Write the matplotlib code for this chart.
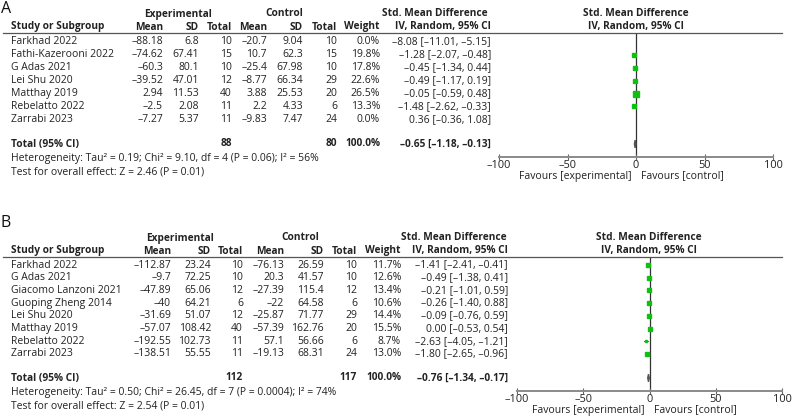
import matplotlib
matplotlib.use("Agg")
import matplotlib.pyplot as plt
from matplotlib.lines import Line2D
import numpy as np

W, H = 792, 416
M = "\u2013"  # minus as drawn in the reference (short dash)

# ---- panel A data ----
a_studies = ["Farkhad 2022", "Fathi-Kazerooni 2022", "G Adas 2021", "Lei Shu 2020",
             "Matthay 2019", "Rebelatto 2022", "Zarrabi 2023"]
a_exp_mean = [-88.18, -74.62, -60.3, -39.52, 2.94, -2.5, -7.27]
a_exp_sd = [6.8, 67.41, 80.1, 47.01, 11.53, 2.08, 5.37]
a_exp_n = [10, 15, 10, 12, 40, 11, 11]
a_ctl_mean = [-20.7, 10.7, -25.4, -8.77, 3.88, 2.2, -9.83]
a_ctl_sd = [9.04, 62.3, 67.98, 66.34, 25.53, 4.33, 7.47]
a_ctl_n = [10, 15, 10, 29, 20, 6, 24]
a_weight = [0.0, 19.8, 17.8, 22.6, 26.5, 13.3, 0.0]
a_smd = [-8.08, -1.28, -0.45, -0.49, -0.05, -1.48, 0.36]
a_lo = [-11.01, -2.07, -1.34, -1.17, -0.59, -2.62, -0.36]
a_hi = [-5.15, -0.48, 0.44, 0.19, 0.48, -0.33, 1.08]
a_total = (-0.65, -1.18, -0.13)
a_total_n = (88, 80)
a_het = "Heterogeneity: Tau\u00b2 = 0.19; Chi\u00b2 = 9.10, df = 4 (P = 0.06); I\u00b2 = 56%"
a_test = "Test for overall effect: Z = 2.46 (P = 0.01)"

# ---- panel B data ----
b_studies = ["Farkhad 2022", "G Adas 2021", "Giacomo Lanzoni 2021", "Guoping Zheng 2014",
             "Lei Shu 2020", "Matthay 2019", "Rebelatto 2022", "Zarrabi 2023"]
b_exp_mean = [-112.87, -9.7, -47.89, -40, -31.69, -57.07, -192.55, -138.51]
b_exp_sd = [23.24, 72.25, 65.06, 64.21, 51.07, 108.42, 102.73, 55.55]
b_exp_n = [10, 10, 12, 6, 12, 40, 11, 11]
b_ctl_mean = [-76.13, 20.3, -27.39, -22, -25.87, -57.39, 57.1, -19.13]
b_ctl_sd = [26.59, 41.57, 115.4, 64.58, 71.77, 162.76, 56.66, 68.31]
b_ctl_n = [10, 10, 12, 6, 29, 20, 6, 24]
b_weight = [11.7, 12.6, 13.4, 10.6, 14.4, 15.5, 8.7, 13.0]
b_smd = [-1.41, -0.49, -0.21, -0.26, -0.09, 0.00, -2.63, -1.80]
b_lo = [-2.41, -1.38, -1.01, -1.40, -0.76, -0.53, -4.05, -2.65]
b_hi = [-0.41, 0.41, 0.59, 0.88, 0.59, 0.54, -1.21, -0.96]
b_total = (-0.76, -1.34, -0.17)
b_total_n = (112, 117)
b_het = "Heterogeneity: Tau\u00b2 = 0.50; Chi\u00b2 = 26.45, df = 7 (P = 0.0004); I\u00b2 = 74%"
b_test = "Test for overall effect: Z = 2.54 (P = 0.01)"

ticks = [-100, -50, 0, 50, 100]

FS = 7.5
FSB = 7.3
TXT = "#222222"
plt.rcParams["font.family"] = ["Open Sans", "DejaVu Sans"]

fig = plt.figure(figsize=(W / 100, H / 100), dpi=100)


def fx(x):
    return x / W


def fy(y):
    return 1 - y / H


def put(x, y, s, ha="left", bold=False, size=None, color=TXT):
    if size is None:
        size = FSB if bold else FS
    fig.text(fx(x), fy(y), s, ha=ha, va="center", fontsize=size,
             fontweight="bold" if bold else "normal", color=color)


def num(v):
    return f"{v:g}".replace("-", M)


def fmt_ci(m, lo, hi):
    return f"{m:.2f} [{lo:.2f}, {hi:.2f}]".replace("-", M)


def panel(label, label_y, top, cols, rows_y, row_h, total_y, forest, data):
    (studies, em, esd, en, cm, csd, cn, wt, smd, lo, hi, tot, tot_n, het, test) = data
    c_study, c_em, c_esd, c_en, c_cm, c_csd, c_cn, c_w, c_ci, c_exp, c_ctl, c_smd1 = cols
    fx0, fx1, fcen = forest

    put(1, label_y, label, size=11.5, color="#111111")
    h1 = top + 8
    h2 = top + 21
    line_y = top + 27
    put(c_exp, h1, "Experimental", ha="center", bold=True)
    put(c_ctl, h1, "Control", ha="center", bold=True)
    put(c_smd1, h1, "Std. Mean Difference", ha="center", bold=True)
    put(fcen, h1, "Std. Mean Difference", ha="center", bold=True)
    put(c_study, h2, "Study or Subgroup", bold=True)
    for x, s in [(c_em, "Mean"), (c_esd, "SD"), (c_en, "Total"), (c_cm, "Mean"),
                 (c_csd, "SD"), (c_cn, "Total"), (c_w, "Weight"), (c_ci, "IV, Random, 95% CI")]:
        put(x, h2, s, ha="right", bold=True)
    put(fcen, h2, "IV, Random, 95% CI", ha="center", bold=True)
    fig.add_artist(Line2D([fx(3), fx(782)], [fy(line_y), fy(line_y)], color="#555555", lw=0.9))

    for i, name in enumerate(studies):
        y = rows_y + i * row_h
        put(c_study, y, name)
        put(c_em, y, num(em[i]), ha="right")
        put(c_esd, y, num(esd[i]), ha="right")
        put(c_en, y, str(en[i]), ha="right")
        put(c_cm, y, num(cm[i]), ha="right")
        put(c_csd, y, num(csd[i]), ha="right")
        put(c_cn, y, str(cn[i]), ha="right")
        put(c_w, y, f"{wt[i]:.1f}%", ha="right")
        put(c_ci, y, fmt_ci(smd[i], lo[i], hi[i]), ha="right")

    put(c_study, total_y, "Total (95% CI)", bold=True)
    put(c_en, total_y, str(tot_n[0]), ha="right", bold=True)
    put(c_cn, total_y, str(tot_n[1]), ha="right", bold=True)
    put(c_w, total_y, "100.0%", ha="right", bold=True)
    put(c_ci, total_y, fmt_ci(*tot), ha="right", bold=True)
    put(c_study, total_y + 14, het)
    put(c_study, total_y + 28, test)

    # forest axes: rows in index units
    axis_y = total_y + 13
    n = len(studies)
    ytop = (line_y - rows_y) / row_h
    ybot = (axis_y - rows_y) / row_h
    ax = fig.add_axes([fx(fx0), fy(axis_y), fx(fx1) - fx(fx0), (axis_y - line_y) / H])
    ax.set_xlim(-100, 100)
    ax.set_ylim(ybot, ytop)
    ax.patch.set_alpha(0)
    for s in ["top", "left", "right"]:
        ax.spines[s].set_visible(False)
    ax.spines["bottom"].set_color("#8a8a8a")
    ax.spines["bottom"].set_linewidth(1.4)
    ax.set_yticks([])
    ax.set_xticks(ticks)
    ax.set_xticklabels([num(t) for t in ticks])
    ax.tick_params(axis="x", direction="inout", length=5, width=0.8, color="#666666",
                   labelsize=FS + 0.4, labelcolor=TXT, pad=0)
    ax.plot([0, 0], [ybot, ytop], color="#333333", lw=0.9, zorder=1)
    for i in range(n):
        if wt[i] <= 0:
            continue
        ax.plot([lo[i], hi[i]], [i, i], color="#1a8a1a", lw=0.7, zorder=2)
        ax.plot(smd[i], i, marker="s", color="#10c010", mec="#10c010",
                markersize=0.72 * np.sqrt(wt[i]), zorder=3)
    ti = (total_y - rows_y) / row_h
    m, l, h = tot
    ax.fill([l, m, h, m], [ti, ti - 0.3, ti, ti + 0.3], color="#555555", zorder=3)
    put(fcen - 4, axis_y + 19, "Favours [experimental]", ha="right")
    put(fcen + 5, axis_y + 19, "Favours [control]", ha="left")


panel("A", 9, 6, (11, 163, 199, 232, 267, 303, 337, 380, 491, 178, 284, 435),
      41.7, 12.95, 144, (499, 773, 636),
      (a_studies, a_exp_mean, a_exp_sd, a_exp_n, a_ctl_mean, a_ctl_sd, a_ctl_n,
       a_weight, a_smd, a_lo, a_hi, a_total, a_total_n, a_het, a_test))

panel("B", 223, 230, (11, 171, 211, 243, 284, 324, 357, 401, 508, 180, 300, 454),
      265, 12.7, 378, (517, 782, 649),
      (b_studies, b_exp_mean, b_exp_sd, b_exp_n, b_ctl_mean, b_ctl_sd, b_ctl_n,
       b_weight, b_smd, b_lo, b_hi, b_total, b_total_n, b_het, b_test))

fig.savefig("out.png", dpi=100)
